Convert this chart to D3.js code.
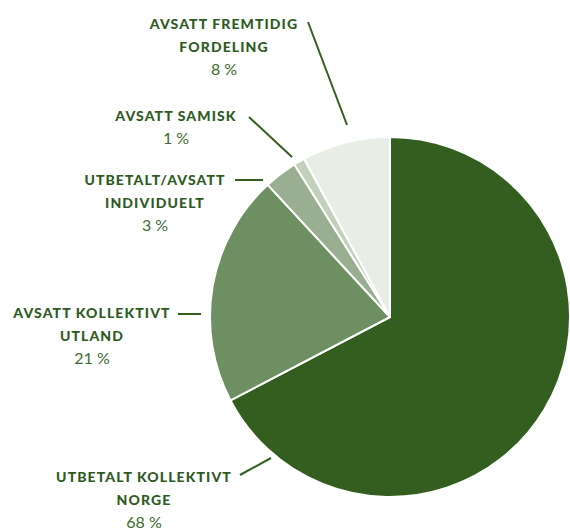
<!DOCTYPE html>
<html><head><meta charset="utf-8">
<script src="https://cdn.jsdelivr.net/npm/d3@7/dist/d3.min.js"></script>
<style>body{margin:0;background:#fff}svg{display:block}</style>
</head><body>
<svg id="c" width="570" height="531"></svg>
<script>
const categories = [
  ["UTBETALT KOLLEKTIVT", "NORGE"],
  ["AVSATT KOLLEKTIVT", "UTLAND"],
  ["UTBETALT/AVSATT", "INDIVIDUELT"],
  ["AVSATT SAMISK"],
  ["AVSATT FREMTIDIG", "FORDELING"]
];
const values = [68, 21, 3, 1, 8];
const valueLabels = ["68 %", "21 %", "3 %", "1 %", "8 %"];
const colors = ["#335e1f", "#6e8f62", "#9aaf91", "#c3d0bc", "#e8ede6"];

// label layout (positions only)
const layout = [
  {x:144, y:478, line:[[240,475],[271,458]]},
  {x:92,  y:314, line:[[178,314],[201,314]]},
  {x:155, y:181, line:[[235,180],[263,180]]},
  {x:176, y:117, line:[[249,117],[292,157]]},
  {x:224, y:25,  line:[[308,22],[347,125]]}
];

const svg = d3.select("#c");
const cx = 390, cy = 317, r = 180;
const pie = d3.pie().sort(null).value(d => d)(values);
const arc = d3.arc().innerRadius(0).outerRadius(r);
const g = svg.append("g").attr("transform", `translate(${cx},${cy})`);
g.selectAll("path").data(pie).join("path")
  .attr("d", arc)
  .attr("fill", (d,i) => colors[i])
  .attr("stroke", "#fff").attr("stroke-width", 2).attr("stroke-linejoin","round");

const dark = "#2f5a1f";
layout.forEach((L, i) => {
  svg.append("line")
    .attr("x1", L.line[0][0]).attr("y1", L.line[0][1])
    .attr("x2", L.line[1][0]).attr("y2", L.line[1][1])
    .attr("stroke", "#335e1f").attr("stroke-width", 2);
  const lines = categories[i];
  lines.forEach((t, j) => {
    svg.append("text").attr("x", L.x).attr("y", L.y + j*23.5)
      .attr("text-anchor","middle").attr("dominant-baseline","middle")
      .style("font-family","Lato").style("font-weight","900").style("font-size","14px")
      .style("letter-spacing","1.1px")
      .attr("fill", dark).text(t);
  });
  svg.append("text").attr("x", L.x).attr("y", L.y + lines.length*23 - 0.5)
    .attr("text-anchor","middle").attr("dominant-baseline","middle")
    .style("font-family","Lato").style("font-weight","400").style("font-size","16px")
    .attr("fill", "#3f6a30").text(valueLabels[i]);
});
</script>
</body></html>
